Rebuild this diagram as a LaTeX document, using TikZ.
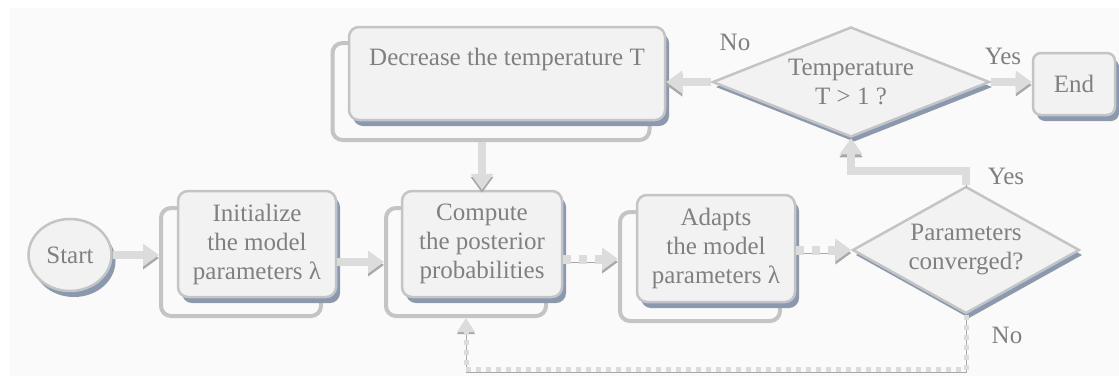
\documentclass[tikz,border=0pt]{standalone}
\usepackage{fontspec}
\setmainfont{Liberation Serif}
\usetikzlibrary{shapes.geometric,shadows,arrows.meta,backgrounds}
\colorlet{txt}{black!50}
\definecolor{boxfill}{HTML}{F2F2F2}
\definecolor{boxline}{HTML}{C4C4C4}
\definecolor{shade}{HTML}{8A99AF}
\definecolor{arrlight}{HTML}{DCDCDC}
\definecolor{arrdark}{HTML}{A8A8A8}
\definecolor{bgc}{HTML}{FAFAFA}

\tikzset{
  base/.style={draw=boxline, line width=2.5pt, fill=boxfill, text=txt, align=center,
    inner sep=0pt, font=\fontsize{25}{29}\selectfont},
  proc/.style={base, rounded corners=10pt,
    drop shadow={shadow xshift=4pt, shadow yshift=-6pt, fill=shade, opacity=1}},
  term/.style={base, ellipse,
    drop shadow={shadow xshift=4pt, shadow yshift=-6pt, fill=shade, opacity=1}},
  test/.style={base, diamond, shape aspect=2.2,
    drop shadow={shadow xshift=3pt, shadow yshift=-5pt, fill=shade, opacity=1}},
  frame/.style={draw=boxline, line width=4pt, rounded corners=10pt},
  flow/.style={line width=8pt, draw=arrlight, -{Triangle[length=16pt,width=22pt]},
    preaction={draw=arrdark, transform canvas={yshift=-3pt}}},
  dflow/.style={flow, line width=9pt, dash pattern=on 8pt off 8pt},
  back/.style={line width=5pt, draw=arrlight, -{Triangle[length=14pt,width=17pt]},
    dash pattern=on 5pt off 5pt,
    preaction={draw=arrdark, transform canvas={yshift=-2pt}}},
  lbl/.style={text=txt, font=\fontsize{25}{29}\selectfont}
}

\begin{document}
\begin{tikzpicture}[x=1pt,y=-1pt]
  \useasboundingbox (0,0) rectangle (1119,376);

  \node[term, minimum width=83, minimum height=72] (start) at (70,255) {Start};
  \node[proc, minimum width=158, minimum height=106] (init) at (257,244) {Initialize\\the model\\parameters λ};
  \node[proc, minimum width=160, minimum height=106] (comp) at (482,244) {Compute\\the posterior\\probabilities};
  \node[proc, minimum width=158, minimum height=107] (adapt) at (716,248.5) {Adapts\\the model\\parameters λ};
  \node[proc, minimum width=316, minimum height=93, text height=38pt, text depth=55pt] (decr) at (507,73.5) {Decrease the temperature T};
  \node[proc, rounded corners=8pt, minimum width=82, minimum height=62] (stop) at (1074,84) {End};
  \node[test, minimum width=277, minimum height=110] (temp) at (851,82) {Temperature\\T > 1 ?};
  \node[test, minimum width=227, minimum height=127] (conv) at (966,250) {Parameters\\converged?};

  \begin{scope}[on background layer]
    \fill[bgc] (10,8) rectangle (1119,376);
    \foreach \n/\w/\h in {init/160/108, comp/160/108, adapt/160/109, decr/317/97} {
      \node[frame, minimum width=\w, minimum height=\h] (\n-b) at ([shift={(-16,18)}]\n) {};
    }
  \end{scope}

  \draw[flow] (start) -- (start -| init-b.west);
  \draw[flow] (init.east |- comp-b.west) -- (comp-b.west);
  \draw[dflow] ([yshift=-15pt]comp.east) -- ([yshift=-15pt]comp.east -| adapt-b.west);
  \draw[dflow] (adapt.east |- conv.west) -- (conv.west);
  \draw[flow] (conv.north) -- ++(0,-14) -| (temp.south);
  \draw[flow] (temp.west) -- (temp.west -| decr.east);
  \draw[flow] (temp.east) -- (temp.east -| stop.west);
  \draw[flow] (decr-b.south -| comp.north) -- (comp.north);
  \draw[back] (conv.south) -- ++(0,55) -| (comp-b.south);

  \node[lbl] (no1) at (735,42) {No};
  \node[lbl] (yes1) at (1003,56) {Yes};
  \node[lbl] (yes2) at (1006,176) {Yes};
  \node[lbl] (no2) at (1007,335) {No};
\end{tikzpicture}
\end{document}
